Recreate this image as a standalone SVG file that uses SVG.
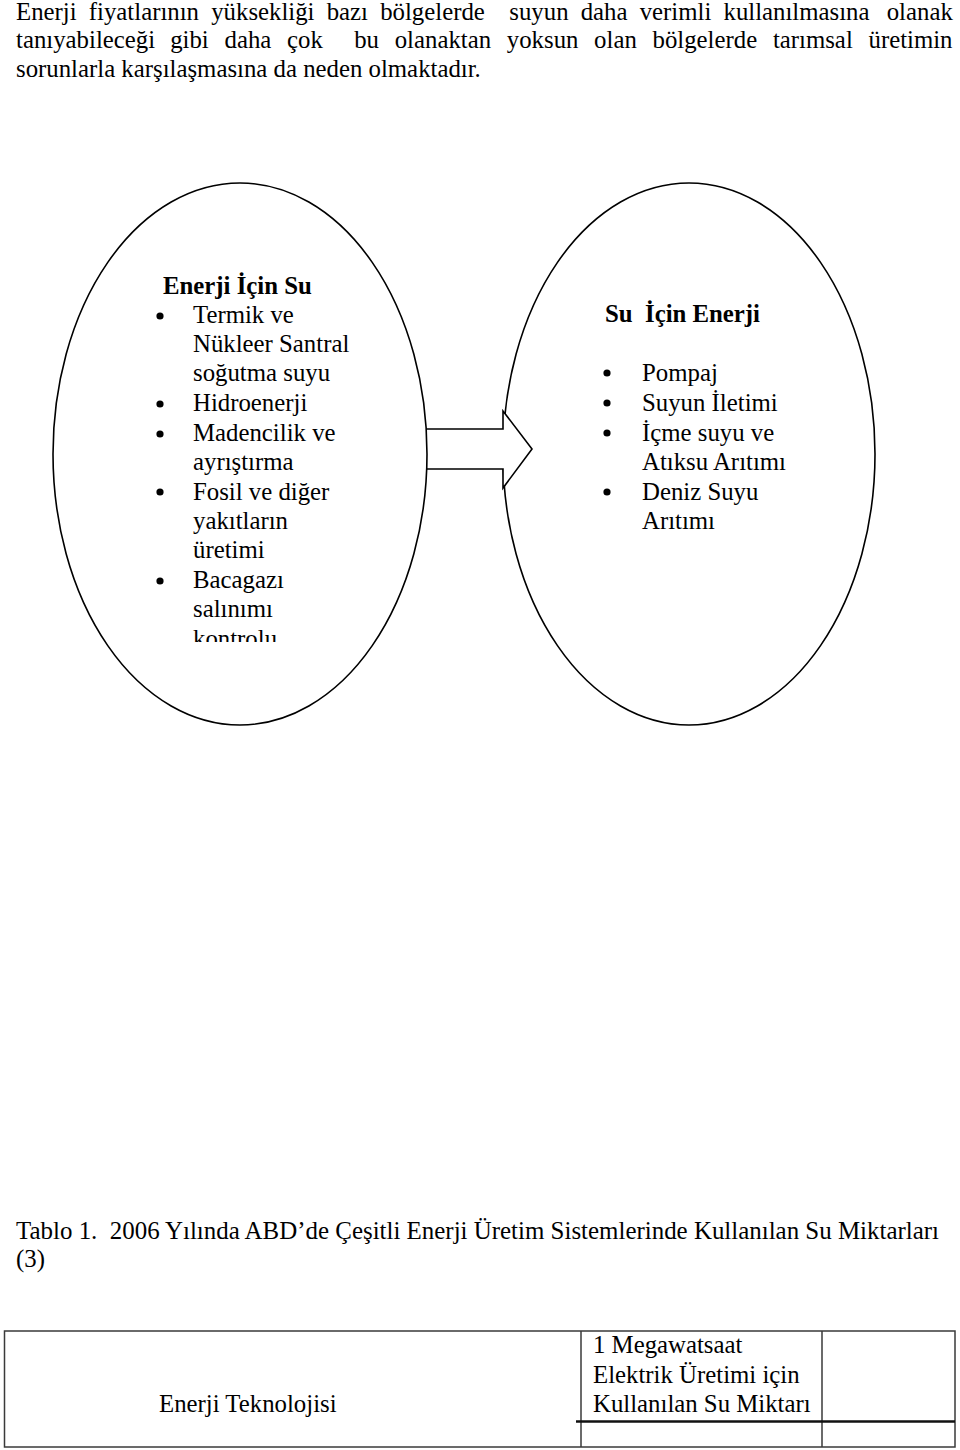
<svg xmlns="http://www.w3.org/2000/svg" width="960" height="1450" viewBox="0 0 960 1450">
<style>
text{font-family:"Liberation Serif","Times New Roman",serif;font-size:24.8px;fill:#000;white-space:pre}
.b{font-weight:bold}
.shape{fill:#fff;stroke:#000;stroke-width:1.6}
.bul{fill:#000}
.tl{stroke:#3a3a3a;stroke-width:1.5;fill:none}
</style>
<defs>
<clipPath id="clipL"><rect x="60" y="260" width="360" height="382"/></clipPath>
</defs>
<rect width="960" height="1450" fill="#fff"/>
<g id="paragraph">
<text y="19.5"><tspan x="16">Enerji</tspan><tspan x="88.8">fiyatlarının</tspan><tspan x="211.2">yüksekliği</tspan><tspan x="326.7">bazı</tspan><tspan x="380.2">bölgelerde</tspan><tspan x="509.3">suyun</tspan><tspan x="580.7">daha</tspan><tspan x="639.7">verimli</tspan><tspan x="723.5">kullanılmasına</tspan><tspan x="886.7">olanak</tspan></text>
<text y="48"><tspan x="16">tanıyabileceği</tspan><tspan x="170.2">gibi</tspan><tspan x="224.5">daha</tspan><tspan x="287">çok</tspan><tspan x="354.2">bu</tspan><tspan x="394.7">olanaktan</tspan><tspan x="506.8">yoksun</tspan><tspan x="594.1">olan</tspan><tspan x="652.5">bölgelerde</tspan><tspan x="772.9">tarımsal</tspan><tspan x="868.5">üretimin</tspan></text>
<text x="16" y="76.5">sorunlarla karşılaşmasına da neden olmaktadır.</text>
</g>
<g id="node-su-icin-enerji">
<ellipse class="shape" cx="689" cy="454" rx="186" ry="271"/>
<text class="b" x="605" y="322">Su  İçin Enerji</text>
<circle class="bul" cx="607" cy="373" r="3.6"/>
<circle class="bul" cx="607" cy="403" r="3.6"/>
<circle class="bul" cx="607" cy="433" r="3.6"/>
<circle class="bul" cx="607" cy="492" r="3.6"/>
<text x="642" y="381">Pompaj</text>
<text x="642" y="411">Suyun İletimi</text>
<text x="642" y="441">İçme suyu ve</text>
<text x="642" y="470">Atıksu Arıtımı</text>
<text x="642" y="500">Deniz Suyu</text>
<text x="642" y="529">Arıtımı</text>
</g>
<g id="connectors">
<polygon class="shape" points="415,429 503,429 503,411 532,449 503,488 503,469 415,469"/>
</g>
<g id="node-enerji-icin-su">
<ellipse class="shape" cx="240" cy="454" rx="187" ry="271"/>
<g clip-path="url(#clipL)">
<text class="b" x="163" y="294">Enerji İçin Su</text>
<circle class="bul" cx="160" cy="316" r="3.6"/>
<circle class="bul" cx="160" cy="404" r="3.6"/>
<circle class="bul" cx="160" cy="434" r="3.6"/>
<circle class="bul" cx="160" cy="492" r="3.6"/>
<circle class="bul" cx="160" cy="581" r="3.6"/>
<text x="193" y="323">Termik ve</text>
<text x="193" y="352">Nükleer Santral</text>
<text x="193" y="381">soğutma suyu</text>
<text x="193" y="411">Hidroenerji</text>
<text x="193" y="441">Madencilik ve</text>
<text x="193" y="470">ayrıştırma</text>
<text x="193" y="499.5">Fosil ve diğer</text>
<text x="193" y="529">yakıtların</text>
<text x="193" y="558">üretimi</text>
<text x="193" y="588">Bacagazı</text>
<text x="193" y="617">salınımı</text>
<text x="193" y="646.5">kontrolu</text>
</g>
</g>
<g id="caption">
<text x="16" y="1238.5" textLength="923" lengthAdjust="spacingAndGlyphs">Tablo 1.  2006 Yılında ABD’de Çeşitli Enerji Üretim Sistemlerinde Kullanılan Su Miktarları</text>
<text x="16" y="1267">(3)</text>
</g>
<g id="table">
<rect class="tl" x="4.5" y="1331" width="950.5" height="116"/>
<line class="tl" x1="581" y1="1331" x2="581" y2="1447"/>
<line class="tl" x1="822" y1="1331" x2="822" y2="1447"/>
<line x1="576" y1="1421.5" x2="955" y2="1421.5" stroke="#111" stroke-width="2.4"/>
<text x="159" y="1412">Enerji Teknolojisi</text>
<text x="593" y="1353">1 Megawatsaat</text>
<text x="593" y="1383">Elektrik Üretimi için</text>
<text x="593" y="1412">Kullanılan Su Miktarı</text>
</g>
</svg>
